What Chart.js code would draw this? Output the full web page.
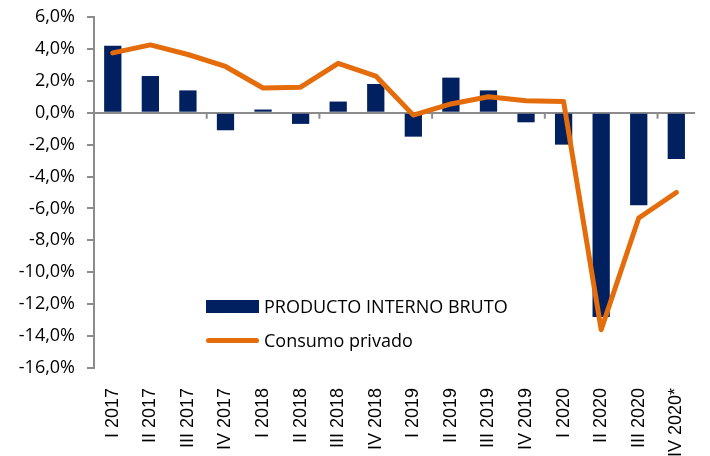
<!DOCTYPE html>
<html>
<head>
<meta charset="utf-8">
<script src="https://cdn.jsdelivr.net/npm/chart.js@4/dist/chart.umd.min.js"></script>
<style>
  html, body { margin: 0; padding: 0; background: #fff; }
  #wrap { position: relative; width: 710px; height: 456px; }
  canvas { position: absolute; left: 0; top: 0; }
  .leg { position: absolute; left: 206px; font-family: "Open Sans", sans-serif; font-size: 18px; color: #000; white-space: nowrap; }
  .leg span.sym { position: absolute; left: 0; }
  .leg span.txt { position: absolute; left: 58px; top: 0; line-height: 20px; }
</style>
</head>
<body>
<div id="wrap">
  <canvas id="c" width="710" height="456"></canvas>
  <div class="leg" style="top:296px;height:20px;">
    <span class="sym" style="top:4px;width:53px;height:13px;background:#002060;"></span>
    <span class="txt">PRODUCTO INTERNO BRUTO</span>
  </div>
  <div class="leg" style="top:330px;height:20px;">
    <span class="sym" style="top:8px;width:53px;height:5px;border-radius:3px;background:#E46C0A;"></span>
    <span class="txt">Consumo privado</span>
  </div>
</div>
<script>
const categories = ["I 2017","II 2017","III 2017","IV 2017","I 2018","II 2018","III 2018","IV 2018",
                    "I 2019","II 2019","III 2019","IV 2019","I 2020","II 2020","III 2020","IV 2020*"];
const pib = [4.2, 2.3, 1.4, -1.1, 0.2, -0.7, 0.7, 1.8, -1.5, 2.2, 1.4, -0.6, -2.0, -12.8, -5.8, -2.9];
const consumo = [3.75, 4.25, 3.65, 2.9, 1.55, 1.6, 3.1, 2.3, -0.15, 0.55, 1.0, 0.75, 0.7, -13.6, -6.6, -5.0];
const yMin = -16, yMax = 6, yStep = 2;

const AXIS = "#8c8c8c";

const xTickPlugin = {
  id: 'xTicksAtZero',
  afterDatasetsDraw(chart) {
    const x = chart.scales.x, y = chart.scales.y, ctx = chart.ctx;
    const y0 = y.getPixelForValue(0);
    ctx.save();
    ctx.strokeStyle = AXIS;
    ctx.lineWidth = 2;
    for (let k = 3; k < categories.length; k += 3) {
      const px = (x.getPixelForValue(k - 1) + x.getPixelForValue(k)) / 2;
      ctx.beginPath();
      ctx.moveTo(px, y0);
      ctx.lineTo(px, y0 + 6);
      ctx.stroke();
    }
    ctx.restore();
  }
};

new Chart(document.getElementById('c'), {
  type: 'bar',
  data: {
    labels: categories,
    datasets: [
      {
        type: 'line',
        label: 'Consumo privado',
        data: consumo,
        borderColor: '#E46C0A',
        backgroundColor: '#E46C0A',
        borderWidth: 5,
        pointRadius: 0,
        tension: 0,
        borderJoinStyle: 'round',
        borderCapStyle: 'round',
        order: 0
      },
      {
        type: 'bar',
        label: 'PRODUCTO INTERNO BRUTO',
        data: pib,
        backgroundColor: '#002060',
        barPercentage: 0.46,
        categoryPercentage: 1.0,
        order: 1
      }
    ]
  },
  options: {
    responsive: false,
    animation: false,
    layout: { padding: { top: 17, right: 3, left: 0, bottom: 0 } },
    plugins: { legend: { display: false }, tooltip: { enabled: false } },
    scales: {
      x: {
        grid: { display: false },
        border: { display: false },
        ticks: {
          color: '#000',
          font: { family: '"Liberation Sans", Arial, sans-serif', size: 18 },
          maxRotation: 90, minRotation: 90,
          padding: 12,
          autoSkip: false
        },
        afterFit(scale) { scale.height = 88; }
      },
      y: {
        min: yMin, max: yMax,
        border: { display: true, color: AXIS, width: 2 },
        grid: {
          color: (c) => (c.tick && c.tick.value === 0) ? AXIS : 'rgba(0,0,0,0)',
          lineWidth: 2,
          tickColor: AXIS,
          tickLength: 7,
          drawTicks: true
        },
        ticks: {
          stepSize: yStep,
          color: '#000',
          padding: 12,
          font: { family: '"Open Sans", sans-serif', size: 18 },
          callback: (v) => v.toFixed(1).replace('.', ',') + '%'
        },
        afterFit(scale) { scale.width = 94; scale.paddingTop = 0; scale.paddingBottom = 0; }
      }
    }
  },
  plugins: [xTickPlugin]
});
</script>
</body>
</html>
